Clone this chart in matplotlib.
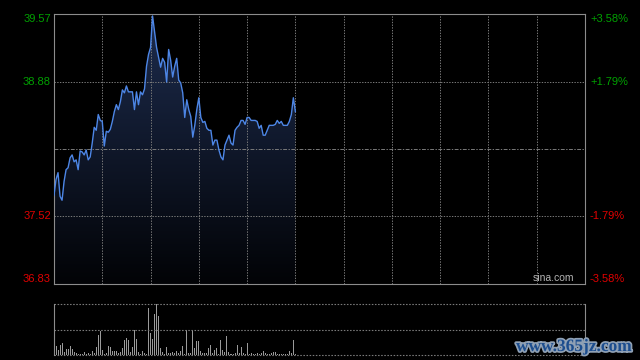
import numpy as np
import matplotlib.pyplot as plt
import matplotlib.patheffects as pe
from matplotlib.colors import LinearSegmentedColormap

## data
prevClose = 38.20
yLow, yHigh = 36.83, 39.57
leftTicks = [36.83, 37.52, 38.88, 39.57]
rightTicks = ['-3.58%', '-1.79%', '+1.79%', '+3.58%']
totalSlots = 264   # whole trading day
gridStep = 24      # one vertical gridline every 24 slots

prices = [37.73, 37.89, 37.96, 37.72, 37.68, 37.87, 37.99, 38.01, 38.11, 38.14,
          38.07, 38.09, 37.99, 38.18, 38.17, 38.14, 38.19, 38.09, 38.12, 38.26,
          38.42, 38.39, 38.55, 38.49, 38.48, 38.23, 38.38, 38.37, 38.40, 38.48,
          38.58, 38.65, 38.60, 38.68, 38.80, 38.77, 38.84, 38.78, 38.78, 38.78,
          38.60, 38.78, 38.65, 38.78, 38.75, 38.81, 39.04, 39.16, 39.23, 39.55,
          39.39, 39.23, 39.13, 39.03, 39.12, 39.08, 38.88, 39.21, 39.10, 38.93,
          39.04, 39.12, 38.90, 38.87, 38.77, 38.52, 38.70, 38.60, 38.53, 38.32,
          38.44, 38.60, 38.72, 38.52, 38.47, 38.48, 38.41, 38.39, 38.39, 38.24,
          38.29, 38.29, 38.19, 38.12, 38.09, 38.24, 38.29, 38.34, 38.26, 38.24,
          38.39, 38.42, 38.44, 38.49, 38.49, 38.45, 38.52, 38.52, 38.49, 38.49,
          38.49, 38.48, 38.41, 38.44, 38.34, 38.34, 38.39, 38.44, 38.44, 38.44,
          38.45, 38.49, 38.46, 38.48, 38.44, 38.44, 38.44, 38.48, 38.55, 38.72,
          38.58]

volumes = [47, 27, 15, 30, 35, 10, 17, 17, 27, 17, 10, 5, 3, 3, 3, 9, 3, 5, 3, 11,
           5, 23, 60, 71, 15, 3, 7, 27, 23, 12, 12, 12, 7, 10, 20, 45, 50, 45, 10, 24,
           73, 48, 8, 3, 12, 7, 3, 140, 65, 47, 120, 151, 115, 20, 9, 3, 24, 7, 5, 9,
           7, 13, 5, 12, 27, 3, 75, 7, 7, 75, 22, 42, 42, 13, 5, 5, 7, 21, 30, 5,
           15, 21, 3, 43, 15, 9, 57, 9, 3, 3, 5, 30, 7, 24, 5, 3, 37, 3, 5, 3,
           3, 5, 3, 5, 13, 5, 3, 3, 5, 10, 9, 3, 3, 3, 3, 3, 3, 13, 5, 45, 3]

x = np.arange(len(prices))

gridColor = '#7a7a7a'
borderColor = '#8c8c8c'
green = '#00a100'
red = '#e00000'

fig = plt.figure(figsize=(6.4, 3.6), dpi=100, facecolor='black')

## price panel
ax = fig.add_axes([54/640, 76/360, 531/640, 270/360], facecolor='black')

fillPoly = ax.fill_between(x, prices, yLow, color='none', linewidth=0)
cmap = LinearSegmentedColormap.from_list('fade', ['#020306', '#1d2c4e'])
grad = np.linspace(1, 0, 256).reshape(-1, 1)
im = ax.imshow(grad, cmap=cmap, extent=[0, len(prices) - 1, yLow, yHigh],
               aspect='auto', origin='upper', zorder=1)
im.set_clip_path(fillPoly.get_paths()[0], transform=ax.transData)

ax.plot(x, prices, color='#4d86e6', linewidth=1.0, zorder=3)

for k in range(1, totalSlots // gridStep):
    ax.axvline(k * gridStep, color=gridColor, linewidth=0.7,
               linestyle=(0, (1.4, 1.4)), zorder=2)
for p in [38.88, 37.52]:
    ax.axhline(p, color=gridColor, linewidth=0.7, linestyle=(0, (1.4, 1.4)), zorder=2)
ax.axhline(prevClose, color=gridColor, linewidth=0.7,
           linestyle=(0, (4, 1.5, 1.4, 1.5)), zorder=2)

ax.set_xlim(0, totalSlots)
ax.set_ylim(yLow, yHigh)
ax.set_xticks([])
ax.set_yticks([])
for s in ax.spines.values():
    s.set_color(borderColor)
    s.set_linewidth(0.8)

tr = ax.get_yaxis_transform()
for p, pct in zip(leftTicks, rightTicks):
    col = green if p > prevClose else red
    va = 'center'
    if p == yHigh:
        va = 'top'
    elif p == yLow:
        va = 'bottom'
    ax.text(-0.006, p, '%.2f' % p, transform=tr, ha='right', va=va,
            color=col, fontsize=8, family='Liberation Sans')
    ax.text(1.0094, p, pct, transform=tr, ha='left', va=va,
            color=col, fontsize=8, family='Liberation Sans')

ax.text(0.979, 0.005, 'sina.com', transform=ax.transAxes, ha='right', va='bottom',
        color='#b4b4b4', fontsize=7.5, family='Liberation Sans')

## volume panel
vax = fig.add_axes([54/640, 5/360, 531/640, 51/360], facecolor='black')
vmax = max(volumes)
vax.bar(x, volumes, width=0.5, color='#9a9a9a', linewidth=0)
for v in [0, vmax / 2, vmax]:
    vax.axhline(v, color=gridColor, linewidth=0.8, linestyle=(0, (1.4, 1.4)),
                clip_on=False)
vax.set_xlim(0, totalSlots)
vax.set_ylim(0, vmax)
vax.set_xticks([])
vax.set_yticks([])
vax.spines['top'].set_visible(False)
vax.spines['bottom'].set_visible(False)
for side in ['left', 'right']:
    vax.spines[side].set_color(borderColor)
    vax.spines[side].set_linewidth(0.8)

## site watermark
fig.text(516/640, 1 - 347/360, 'www.365jz.com', ha='left', va='center',
         color='#1c4d8e', fontsize=12.5, fontweight='bold', family='Liberation Serif',
         path_effects=[pe.withStroke(linewidth=2.5, foreground='#8fa0b4')])

fig.savefig('out.png', dpi=100, facecolor='black')
